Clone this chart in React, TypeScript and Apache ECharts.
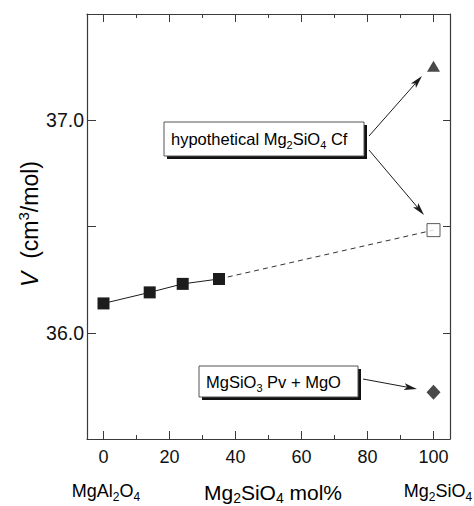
import React, { useEffect, useRef } from 'react';
import * as echarts from 'echarts';

// Data (Mg2SiO4 mol%, V in cm3/mol)
const spinelX = [0, 14, 24, 35];
const spinelV = [36.138, 36.19, 36.23, 36.253];
const extrapX = [35, 100];
const extrapV = [36.253, 36.483];
const hypoCfX = [100];
const hypoCfV = [36.483];
const cfX = [100];
const cfV = [37.254];
const pvX = [100];
const pvV = [35.72];

const xMajorTicks = [0, 20, 40, 60, 80, 100];
const xMinorTicks = [10, 30, 50, 70, 90];
const yTicks = [35.5, 36.0, 36.5, 37.0, 37.5];
const yLabels = [36.0, 37.0];

const FONT = '"Liberation Sans", Arial, Helvetica, sans-serif';
const INK = '#1c1c1c';
const AXIS = '#3a3a3a';

const pairs = (xs: number[], ys: number[]) => xs.map((x, i) => [x, ys[i]]);

// annotation arrows (pixel positions of the annotation layout): [from, to]
const arrows: number[][][] = [
  [[369, 136], [422, 76]],
  [[369, 150], [424, 215]],
  [[363, 379], [417, 389]],
];

function arrowGraphics(a: number[][][]) {
  const out: any[] = [];
  a.forEach(([p0, p1]) => {
    const dx = p1[0] - p0[0];
    const dy = p1[1] - p0[1];
    const L = Math.hypot(dx, dy);
    const ux = dx / L, uy = dy / L;
    const nx = -uy, ny = ux;
    const len = 13, hw = 3.4, notch = 10;
    const bx = p1[0] - ux * len, by = p1[1] - uy * len;
    const mx = p1[0] - ux * notch, my = p1[1] - uy * notch;
    out.push({
      type: 'line', z: 12,
      shape: { x1: p0[0], y1: p0[1], x2: mx, y2: my },
      style: { stroke: INK, lineWidth: 1 },
    });
    out.push({
      type: 'polygon', z: 12,
      shape: { points: [[p1[0], p1[1]], [bx + nx * hw, by + ny * hw], [mx, my], [bx - nx * hw, by - ny * hw]] },
      style: { fill: INK },
    });
  });
  return out;
}

export default function App() {
  const ref = useRef<HTMLDivElement>(null);
  useEffect(() => {
    const chart = echarts.init(ref.current!, undefined, { renderer: 'svg' });
    const lineStyle = { color: AXIS, width: 1.2 };
    const tick = { color: AXIS, width: 1 };
    const xAx = (position: string, values: number[], len: number, showLine: boolean, showLabel: boolean) => ({
      type: 'value',
      min: -5,
      max: 105,
      position,
      splitLine: { show: false },
      axisLine: { show: showLine, onZero: false, lineStyle },
      axisTick: { show: true, inside: true, length: len, customValues: values, lineStyle: tick },
      axisLabel: {
        show: showLabel,
        customValues: xMajorTicks,
        fontSize: 18,
        fontFamily: FONT,
        color: '#111',
        margin: 9,
        formatter: (v: number) => String(v),
      },
    });
    const yAx = (position: string, showLabel: boolean, len: number) => ({
      type: 'value',
      min: 35.5,
      max: 37.5,
      position,
      splitLine: { show: false },
      axisLine: { show: true, onZero: false, lineStyle },
      axisTick: { show: true, inside: true, length: len, customValues: yTicks, lineStyle: tick },
      axisLabel: {
        show: showLabel,
        customValues: yLabels,
        fontSize: 19.5,
        fontFamily: FONT,
        color: '#111',
        margin: 3,
        formatter: (v: number) => v.toFixed(1),
      },
    });

    const subRich = (size: number, lh: number) => ({
      t: { fontSize: size, fontFamily: FONT, color: INK, lineHeight: lh },
      s: { fontSize: Math.round(size * 0.68), fontFamily: FONT, color: INK, lineHeight: Math.round(size * 0.68), verticalAlign: 'bottom' },
    });

    const box = (x: number, y: number, w: number, h: number) => [
      { type: 'rect', shape: { x: x + 3, y: y + 3, width: w, height: h }, style: { fill: '#111' }, z: 10 },
      { type: 'rect', shape: { x, y, width: w, height: h }, style: { fill: '#fff', stroke: '#555', lineWidth: 1 }, z: 11 },
    ];

    const option = {
      animation: false,
      backgroundColor: '#fff',
      grid: { left: 87, right: 24, top: 14, bottom: 67, containLabel: false },
      xAxis: [
        xAx('bottom', xMajorTicks, 8, true, true),
        xAx('bottom', xMinorTicks, 4, false, false),
        xAx('top', xMajorTicks, 8, true, false),
        xAx('top', xMinorTicks, 4, false, false),
      ],
      yAxis: [yAx('left', true, 9), yAx('right', false, 7)],
      series: [
        {
          type: 'line',
          data: pairs(spinelX, spinelV),
          symbol: 'rect',
          symbolSize: 12,
          itemStyle: { color: INK },
          lineStyle: { color: INK, width: 1 },
          z: 5,
        },
        {
          type: 'line',
          data: pairs(extrapX, extrapV),
          symbol: 'none',
          lineStyle: { color: '#333', width: 1, type: [5, 4] },
          z: 3,
        },
        {
          type: 'scatter',
          data: pairs(hypoCfX, hypoCfV),
          symbol: 'rect',
          symbolSize: 13,
          itemStyle: { color: '#fff', borderColor: '#333', borderWidth: 1 },
          z: 6,
        },
        {
          type: 'scatter',
          data: pairs(cfX, cfV),
          symbol: 'triangle',
          symbolSize: [13, 11],
          itemStyle: { color: INK },
          z: 6,
        },
        {
          type: 'scatter',
          data: pairs(pvX, pvV),
          symbol: 'diamond',
          symbolSize: [14, 15],
          itemStyle: { color: INK },
          z: 6,
        },
      ],
      graphic: [
        ...box(164, 122, 200, 34),
        {
          type: 'text', x: 171, y: 139, z: 12,
          style: { text: '{t|hypothetical Mg}{s|2}{t|SiO}{s|4}{t| Cf}', rich: subRich(16.5, 22), align: 'left', verticalAlign: 'middle' },
        },
        ...box(199, 366, 159, 31),
        {
          type: 'text', x: 206, y: 382, z: 12,
          style: { text: '{t|MgSiO}{s|3}{t| Pv + MgO}', rich: subRich(16.5, 22), align: 'left', verticalAlign: 'middle' },
        },
        ...arrowGraphics(arrows),
        {
          type: 'text', x: 106, y: 491, z: 12,
          style: { text: '{t|MgAl}{s|2}{t|O}{s|4}', rich: subRich(18, 24), align: 'center', verticalAlign: 'middle' },
        },
        {
          type: 'text', x: 273, y: 492, z: 12,
          style: { text: '{t|Mg}{s|2}{t|SiO}{s|4}{t| mol%}', rich: subRich(21, 26), align: 'center', verticalAlign: 'middle' },
        },
        {
          type: 'text', x: 438, y: 491, z: 12,
          style: { text: '{t|Mg}{s|2}{t|SiO}{s|4}', rich: subRich(18, 24), align: 'center', verticalAlign: 'middle' },
        },
        {
          type: 'text', x: 30, y: 224, rotation: Math.PI / 2, z: 12,
          style: {
            text: '{i|V}{t|  (cm}{sup|3}{t|/mol)}',
            align: 'center',
            verticalAlign: 'middle',
            rich: {
              i: { fontSize: 23, fontStyle: 'italic', fontFamily: FONT, color: INK, lineHeight: 28 },
              t: { fontSize: 23, fontFamily: FONT, color: INK, lineHeight: 28 },
              sup: { fontSize: 15, fontFamily: FONT, color: INK, lineHeight: 15, verticalAlign: 'top' },
            },
          },
        },
      ],
    };
    chart.setOption(option as any);
    return () => chart.dispose();
  }, []);
  return (
    <div
      ref={ref}
      style={{ position: 'fixed', left: 0, top: 0, width: 474, height: 506, background: '#fff' }}
    />
  );
}
